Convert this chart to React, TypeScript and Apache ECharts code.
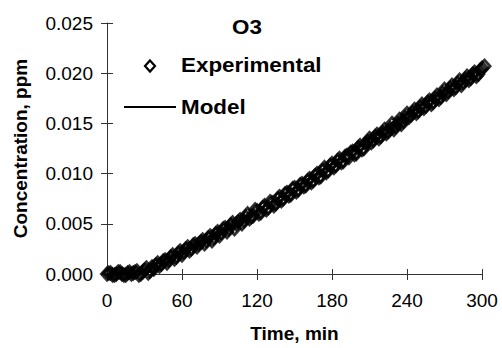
import React, { useEffect, useRef } from "react";
import * as echarts from "echarts";

const expTimes = [
  0, 3, 6, 9, 12, 15, 18, 21, 24, 27, 30, 33, 36, 39, 42, 45, 48, 51, 54, 57,
  60, 63, 66, 69, 72, 75, 78, 81, 84, 87, 90, 93, 96, 99, 102, 105, 108, 111, 114, 117,
  120, 123, 126, 129, 132, 135, 138, 141, 144, 147, 150, 153, 156, 159, 162, 165, 168, 171, 174, 177,
  180, 183, 186, 189, 192, 195, 198, 201, 204, 207, 210, 213, 216, 219, 222, 225, 228, 231, 234, 237,
  240, 243, 246, 249, 252, 255, 258, 261, 264, 267, 270, 273, 276, 279, 282, 285, 288, 291, 294, 297,
  300, 302,
];
const expValues = [
  0.0, 0.0001, -0.0001, 0.0002, 0.0, -0.0001, 0.0002, 0.0001, 0.0003, 0.0, 0.0004, 0.0001, 0.0007, 0.0009, 0.0008, 0.0013, 0.0011, 0.0017, 0.0015, 0.0021,
  0.0019, 0.0025, 0.0023, 0.0029, 0.0027, 0.0032, 0.003, 0.0036, 0.0033, 0.004, 0.0038, 0.0045, 0.0042, 0.0049, 0.0045, 0.0052, 0.005, 0.0057, 0.0055, 0.0058,
  0.0063, 0.0061, 0.0068, 0.0066, 0.0071, 0.007, 0.0077, 0.0075, 0.0081, 0.0079, 0.0086, 0.0084, 0.009, 0.0088, 0.0095, 0.0093, 0.01, 0.0097, 0.0106, 0.0103,
  0.011, 0.0108, 0.0115, 0.0112, 0.0118, 0.0121, 0.0119, 0.0126, 0.0124, 0.013, 0.0135, 0.0133, 0.0139, 0.0137, 0.0144, 0.0142, 0.015, 0.0147, 0.0154, 0.0152,
  0.016, 0.0158, 0.0164, 0.0162, 0.0169, 0.0167, 0.0173, 0.0171, 0.0178, 0.0176, 0.0184, 0.0182, 0.0188, 0.0186, 0.0193, 0.0191, 0.0197, 0.0195, 0.0201, 0.0199,
  0.0205, 0.0207,
];

const expTimes2 = [
  1.5, 4.5, 7.5, 10.5, 13.5, 16.5, 19.5, 22.5, 25.5, 28.5,
  31.5, 34.5, 37.5, 40.5, 43.5, 46.5, 49.5, 52.5, 55.5, 58.5,
  61.5, 64.5, 67.5, 70.5, 73.5, 76.5, 79.5, 82.5, 85.5, 88.5,
  91.5, 94.5, 97.5, 100.5, 103.5, 106.5, 109.5, 112.5, 115.5, 118.5,
  121.5, 124.5, 127.5, 130.5, 133.5, 136.5, 139.5, 142.5, 145.5, 148.5,
  151.5, 154.5, 157.5, 160.5, 163.5, 166.5, 169.5, 172.5, 175.5, 178.5,
  181.5, 184.5, 187.5, 190.5, 193.5, 196.5, 199.5, 202.5, 205.5, 208.5,
  211.5, 214.5, 217.5, 220.5, 223.5, 226.5, 229.5, 232.5, 235.5, 238.5,
  241.5, 244.5, 247.5, 250.5, 253.5, 256.5, 259.5, 262.5, 265.5, 268.5,
  271.5, 274.5, 277.5, 280.5, 283.5, 286.5, 289.5, 292.5, 295.5, 298.5,
];
const expValues2 = [
  0.0001, -0.0001, 0.0, 0.0002, -0.0001, 0.0001, 0.0, 0.0002, -0.0001, 0.0002,
  0.0006, 0.0003, 0.0005, 0.0011, 0.001, 0.0014, 0.0014, 0.0019, 0.0017, 0.0023,
  0.0022, 0.0027, 0.0025, 0.003, 0.003, 0.0034, 0.0033, 0.0038, 0.0036, 0.0042,
  0.0041, 0.0046, 0.0045, 0.0051, 0.005, 0.0054, 0.0053, 0.006, 0.0057, 0.0064,
  0.006, 0.0066, 0.0064, 0.0072, 0.0068, 0.0075, 0.0073, 0.008, 0.0078, 0.0085,
  0.0082, 0.0089, 0.0087, 0.0093, 0.0091, 0.0098, 0.0096, 0.0103, 0.0101, 0.0108,
  0.0106, 0.0113, 0.0111, 0.0117, 0.0116, 0.0122, 0.012, 0.0128, 0.0125, 0.0132,
  0.0131, 0.0137, 0.0135, 0.0141, 0.014, 0.0145, 0.0144, 0.015, 0.0149, 0.0156,
  0.0156, 0.0161, 0.016, 0.0166, 0.0165, 0.0171, 0.0169, 0.0175, 0.0174, 0.018,
  0.0179, 0.0185, 0.0184, 0.019, 0.0188, 0.0194, 0.0193, 0.0199, 0.0197, 0.0203,
];

const modelTimes = [0, 10, 20, 30, 40, 50, 60, 70, 80, 90, 100, 110, 120, 135, 150, 165, 180, 195, 210, 225, 240, 255, 270, 285, 300, 305];
const modelValues = [
  0.0, 0.00003, 0.0002, 0.0005, 0.001, 0.0016, 0.0022, 0.0028, 0.0034, 0.0041, 0.0048, 0.0055, 0.0063, 0.0074, 0.0086, 0.0098,
  0.011, 0.0123, 0.0136, 0.0148, 0.016, 0.0172, 0.0184, 0.0196, 0.0209, 0.0215,
];

const xTicks = [0, 60, 120, 180, 240, 300];
const yTicks = [0, 0.005, 0.01, 0.015, 0.02, 0.025];

const FONT = "Liberation Sans";

export default function App() {
  const ref = useRef<HTMLDivElement>(null);
  useEffect(() => {
    document.body.style.margin = "0";
    if (!ref.current) return;
    const chart = echarts.init(ref.current, undefined, { renderer: "svg" });
    const axisColor = "#333333";
    const xBase = {
      type: "value",
      min: xTicks[0],
      max: xTicks[xTicks.length - 1],
      interval: 60,
      splitLine: { show: false },
    };
    const yBase = {
      type: "value",
      min: yTicks[0],
      max: yTicks[yTicks.length - 1],
      interval: 0.005,
      splitLine: { show: false },
    };
    const expStyle = {
      type: "scatter",
      xAxisIndex: 0,
      yAxisIndex: 0,
      clip: false,
      symbol: "diamond",
      symbolSize: [11, 12],
      itemStyle: { color: "rgba(255,255,255,0)", borderColor: "#000000", borderWidth: 3 },
      z: 2,
    };
    chart.setOption({
      animation: false,
      backgroundColor: "#ffffff",
      textStyle: { fontFamily: FONT },
      grid: { left: 107, right: 20, top: 23, bottom: 74, containLabel: false },
      xAxis: [
        {
          ...xBase,
          position: "bottom",
          axisLine: { show: true, lineStyle: { color: axisColor, width: 1 } },
          axisTick: { show: true, inside: false, length: 6, lineStyle: { color: axisColor } },
          axisLabel: { show: true, color: "#000", fontSize: 19, fontFamily: FONT, margin: 17 },
          name: "Time, min",
          nameLocation: "middle",
          nameGap: 50,
          nameTextStyle: { color: "#000", fontSize: 19, fontWeight: "bold", fontFamily: FONT },
        },
        {
          ...xBase,
          position: "bottom",
          axisLine: { show: false },
          axisTick: { show: true, inside: true, length: 5, lineStyle: { color: axisColor } },
          axisLabel: { show: false },
        },
      ],
      yAxis: [
        {
          ...yBase,
          position: "left",
          axisLine: { show: true, lineStyle: { color: axisColor, width: 1 } },
          axisTick: { show: true, inside: false, length: 6, lineStyle: { color: axisColor } },
          axisLabel: {
            show: true,
            color: "#000",
            fontSize: 19,
            fontFamily: FONT,
            margin: 14,
            formatter: (v: number) => v.toFixed(3),
          },
          name: "Concentration, ppm",
          nameLocation: "middle",
          nameGap: 77,
          nameTextStyle: { color: "#000", fontSize: 19, fontWeight: "bold", fontFamily: FONT },
        },
        {
          ...yBase,
          position: "left",
          axisLine: { show: false },
          axisTick: { show: true, inside: true, length: 6, lineStyle: { color: axisColor } },
          axisLabel: { show: false },
        },
      ],
      series: [
        {
          ...expStyle,
          name: "Experimental",
          data: expTimes.map((t, i) => [t, expValues[i]]),
        },
        {
          ...expStyle,
          name: "Experimental",
          data: expTimes2.map((t, i) => [t, expValues2[i]]),
        },
        {
          name: "Model",
          type: "line",
          xAxisIndex: 0,
          yAxisIndex: 0,
          clip: false,
          smooth: true,
          showSymbol: false,
          symbol: "none",
          lineStyle: { color: "#000000", width: 2 },
          data: modelTimes.map((t, i) => [t, modelValues[i]]),
          z: 3,
        },
      ],
      graphic: [
        {
          type: "text",
          x: 232,
          y: 17,
          scaleX: 1.12,
          style: { text: "O3", font: `bold 20px "${FONT}"`, fill: "#000" },
        },
        {
          type: "polygon",
          shape: { points: [[150, 60.5], [155, 66], [150, 71.5], [145, 66]] },
          style: { fill: "#fff", stroke: "#000", lineWidth: 2.2 },
        },
        {
          type: "text",
          x: 181,
          y: 55,
          scaleX: 1.12,
          style: { text: "Experimental", font: `bold 20px "${FONT}"`, fill: "#000" },
        },
        {
          type: "line",
          shape: { x1: 124, y1: 107, x2: 176, y2: 107 },
          style: { stroke: "#000", lineWidth: 2 },
        },
        {
          type: "text",
          x: 181,
          y: 97,
          scaleX: 1.12,
          style: { text: "Model", font: `bold 20px "${FONT}"`, fill: "#000" },
        },
      ],
    });
    return () => chart.dispose();
  }, []);
  return <div ref={ref} style={{ width: 502, height: 348 }} />;
}
